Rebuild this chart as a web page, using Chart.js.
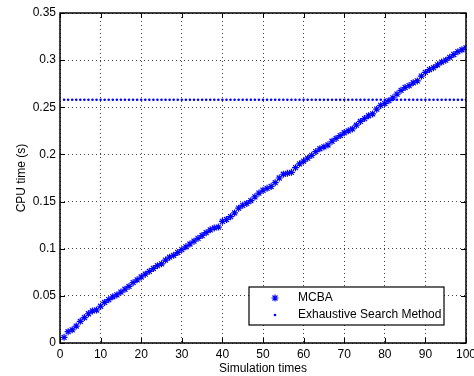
<!DOCTYPE html>
<html>
<head>
<meta charset="utf-8">
<script src="https://cdn.jsdelivr.net/npm/chart.js@4/dist/chart.umd.min.js"></script>
<style>
  body { margin: 0; background: #fff; }
  canvas { display: block; }
</style>
</head>
<body>
<canvas id="cpu-chart" width="474" height="376"></canvas>
<script>
// simulation index 1..100
let simTimes = [];
for (let i = 1; i <= 100; i++) simTimes.push(i);

// CPU time of MCBA
let mcba = [
  0.006, 0.012, 0.014, 0.018, 0.023, 0.027, 0.031, 0.034, 0.035, 0.039,
  0.043, 0.046, 0.049, 0.051, 0.054, 0.057, 0.060, 0.064, 0.067, 0.070,
  0.073, 0.076, 0.079, 0.082, 0.084, 0.088, 0.091, 0.093, 0.096, 0.099,
  0.102, 0.105, 0.108, 0.111, 0.114, 0.117, 0.120, 0.122, 0.123, 0.129,
  0.131, 0.134, 0.138, 0.143, 0.146, 0.148, 0.151, 0.155, 0.159, 0.162,
  0.164, 0.166, 0.170, 0.175, 0.179, 0.180, 0.181, 0.186, 0.190, 0.193,
  0.196, 0.199, 0.203, 0.206, 0.208, 0.210, 0.214, 0.217, 0.220, 0.223,
  0.225, 0.227, 0.231, 0.235, 0.238, 0.241, 0.243, 0.248, 0.252, 0.254,
  0.257, 0.260, 0.264, 0.268, 0.271, 0.273, 0.276, 0.278, 0.283, 0.287,
  0.290, 0.292, 0.295, 0.298, 0.300, 0.303, 0.306, 0.309, 0.311, 0.313
];

// exhaustive search is constant
let exhaustive = [];
for (let i = 0; i < 100; i++) exhaustive.push(0.258);

let xTicks = [0, 10, 20, 30, 40, 50, 60, 70, 80, 90, 100];
let yTicks = [0, 0.05, 0.1, 0.15, 0.2, 0.25, 0.3, 0.35];
let seriesNames = ["MCBA", "Exhaustive Search Method"];

let font = { family: "'Liberation Sans', Arial, sans-serif", size: 12 };

// matlab style box, inward ticks and legend
let matlabBox = {
  id: "matlabBox",
  afterDraw(chart) {
    let ctx = chart.ctx;
    let a = chart.chartArea;
    let xs = chart.scales.x;
    let ys = chart.scales.y;
    ctx.save();
    ctx.strokeStyle = "#000";
    ctx.lineWidth = 1;
    ctx.beginPath();
    xTicks.forEach(function (t) {
      let px = Math.round(xs.getPixelForValue(t)) + 0.5;
      ctx.moveTo(px, a.bottom); ctx.lineTo(px, a.bottom - 5);
      ctx.moveTo(px, a.top); ctx.lineTo(px, a.top + 5);
    });
    yTicks.forEach(function (t) {
      let py = Math.round(ys.getPixelForValue(t)) + 0.5;
      ctx.moveTo(a.left, py); ctx.lineTo(a.left + 5, py);
      ctx.moveTo(a.right, py); ctx.lineTo(a.right - 5, py);
    });
    ctx.stroke();
    ctx.lineWidth = 1.5;
    ctx.strokeRect(a.left, a.top, a.right - a.left, a.bottom - a.top);

    // legend box
    let lx = a.left + 189, ly = a.top + 274, lw = 195, lh = 38;
    ctx.fillStyle = "#fff";
    ctx.fillRect(lx, ly, lw, lh);
    ctx.lineWidth = 1.2;
    ctx.strokeRect(lx, ly, lw, lh);
    ctx.fillStyle = "#000";
    ctx.font = font.size + "px " + font.family;
    ctx.textBaseline = "middle";
    ctx.fillText(seriesNames[0], lx + 49, ly + 11);
    ctx.fillText(seriesNames[1], lx + 49, ly + 28);
    ctx.strokeStyle = "#0000ff";
    Chart.helpers.drawPoint(ctx, { pointStyle: "star", radius: 3.5, borderWidth: 1.2 }, lx + 26, ly + 11);
    ctx.fillStyle = "#0000ff";
    ctx.beginPath();
    ctx.arc(lx + 26, ly + 28, 1.3, 0, Math.PI * 2);
    ctx.fill();
    ctx.restore();
  }
};

new Chart(document.getElementById("cpu-chart"), {
  type: "line",
  data: {
    labels: simTimes,
    datasets: [
      {
        label: seriesNames[0],
        data: simTimes.map(function (x, i) { return { x: x, y: mcba[i] }; }),
        showLine: false,
        pointStyle: "star",
        pointRadius: 3.5,
        pointBorderWidth: 1.2,
        borderColor: "#0000ff",
        backgroundColor: "#0000ff",
      },
      {
        label: seriesNames[1],
        data: simTimes.map(function (x, i) { return { x: x, y: exhaustive[i] }; }),
        showLine: false,
        pointStyle: "circle",
        pointRadius: 1.3,
        pointBorderWidth: 0,
        borderColor: "#0000ff",
        backgroundColor: "#0000ff",
      },
    ],
  },
  options: {
    responsive: false,
    animation: false,
    devicePixelRatio: 1,
    layout: { padding: { top: 13, right: 8, left: 0, bottom: 0 } },
    plugins: { legend: { display: false }, tooltip: { enabled: false } },
    scales: {
      x: {
        type: "linear",
        min: 0,
        max: 100,
        afterBuildTicks: function (s) { s.ticks = xTicks.map(function (v) { return { value: v }; }); },
        afterFit: function (s) { s.height = 33; s.paddingLeft = 0; s.paddingRight = 0; },
        ticks: { font: font, color: "#000", padding: 4, maxRotation: 0 },
        grid: { color: "#444", drawTicks: false, lineWidth: 1 },
        border: { display: false, dash: [1, 3] },
        title: { display: true, text: "Simulation times", font: font, color: "#000", padding: { top: 0, bottom: 0 } },
      },
      y: {
        min: 0,
        max: 0.35,
        afterBuildTicks: function (s) { s.ticks = yTicks.map(function (v) { return { value: v }; }); },
        afterFit: function (s) { s.width = 60; s.paddingTop = 0; s.paddingBottom = 0; },
        ticks: {
          font: font,
          color: "#000",
          padding: 4,
          callback: function (v) { return String(+v.toFixed(2)); },
        },
        grid: { color: "#444", drawTicks: false, lineWidth: 1 },
        border: { display: false, dash: [1, 3] },
        title: { display: true, text: "CPU time (s)", font: font, color: "#000", padding: { top: 14, bottom: 0 } },
      },
    },
  },
  plugins: [matlabBox],
});
</script>
</body>
</html>
